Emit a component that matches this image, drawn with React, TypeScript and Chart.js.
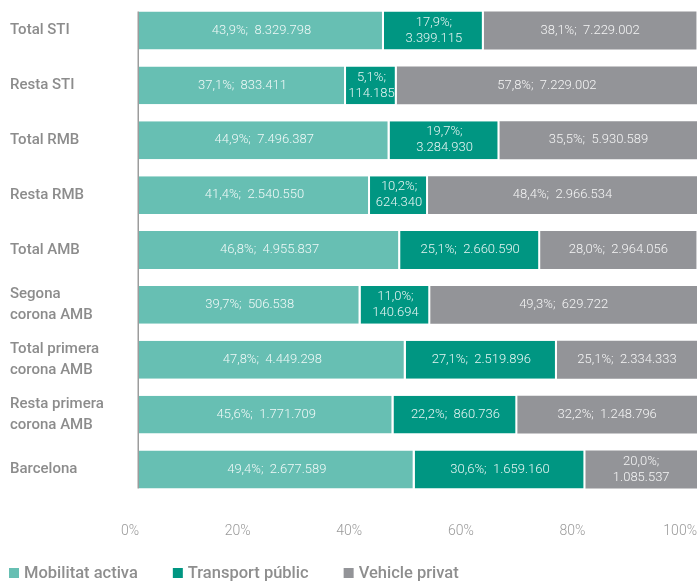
import React, { useEffect, useRef } from 'react';
import { Chart, registerables } from 'chart.js';
Chart.register(...registerables);

const categories: string[][] = [
  ['Total STI'],
  ['Resta STI'],
  ['Total RMB'],
  ['Resta RMB'],
  ['Total AMB'],
  ['Segona', 'corona AMB'],
  ['Total primera', 'corona AMB'],
  ['Resta primera', 'corona AMB'],
  ['Barcelona'],
];
const seriesNames = ['Mobilitat activa', 'Transport públic', 'Vehicle privat'];

// Bar lengths as drawn in the picture (% of the 100% scale)
const activaBar = [43.9, 37.1, 44.9, 41.4, 46.8, 39.7, 47.8, 45.6, 49.4];
const publicBar = [17.9, 9.1, 19.7, 10.4, 25.1, 12.5, 27.1, 22.2, 30.6];
const privatBar = [38.1, 53.8, 35.5, 48.2, 28.0, 47.8, 25.1, 32.2, 20.0];

// Label texts (percentage and absolute value)
const activaPct = [43.9, 37.1, 44.9, 41.4, 46.8, 39.7, 47.8, 45.6, 49.4];
const activaCount = [8329798, 833411, 7496387, 2540550, 4955837, 506538, 4449298, 1771709, 2677589];
const publicPct = [17.9, 5.1, 19.7, 10.2, 25.1, 11.0, 27.1, 22.2, 30.6];
const publicCount = [3399115, 114185, 3284930, 624340, 2660590, 140694, 2519896, 860736, 1659160];
const privatPct = [38.1, 57.8, 35.5, 48.4, 28.0, 49.3, 25.1, 32.2, 20.0];
const privatCount = [7229002, 7229002, 5930589, 2966534, 2964056, 629722, 2334333, 1248796, 1085537];
const xTickStep = 20;

const colors = ['#67bfb3', '#009682', '#939498'];
const labelPcts = [activaPct, publicPct, privatPct];
const counts = [activaCount, publicCount, privatCount];

const fmtPct = (v: number) => v.toFixed(1).replace('.', ',') + '%;';
const fmtCount = (n: number) => n.toString().replace(/\B(?=(\d{3})+(?!\d))/g, '.');

const valueLabels = {
  id: 'valueLabels',
  afterDatasetsDraw(chart: any) {
    const ctx = chart.ctx;
    ctx.save();
    ctx.font = '300 13px Roboto, "Liberation Sans", sans-serif';
    ctx.fillStyle = 'rgba(255,255,255,0.9)';
    ctx.textAlign = 'center';
    ctx.textBaseline = 'middle';
    chart.data.datasets.forEach((ds: any, di: number) => {
      const meta = chart.getDatasetMeta(di);
      meta.data.forEach((el: any, i: number) => {
        const p = fmtPct(labelPcts[di][i]);
        const c = fmtCount(counts[di][i]);
        const full = p + '  ' + c;
        const cx = (el.x + el.base) / 2;
        const w = Math.abs(el.x - el.base);
        if (ctx.measureText(full).width + 16 > w) {
          ctx.fillText(p, cx, el.y - 8);
          ctx.fillText(c, cx, el.y + 8);
        } else {
          ctx.fillText(full, cx, el.y);
        }
      });
    });
    ctx.restore();
  },
};

const axisLine = {
  id: 'axisLine',
  beforeDatasetsDraw(chart: any) {
    const meta = chart.getDatasetMeta(0);
    const first = meta.data[0];
    const last = meta.data[meta.data.length - 1];
    const top = first.y - first.height / 2;
    const bottom = last.y + last.height / 2;
    const ctx = chart.ctx;
    ctx.save();
    ctx.fillStyle = '#9c9c9c';
    ctx.fillRect(chart.chartArea.left - 1.5, top, 1.5, bottom - top);
    ctx.restore();
  },
};

const customLegend = {
  id: 'customLegend',
  afterDraw(chart: any) {
    const ctx = chart.ctx;
    ctx.save();
    ctx.font = '500 16.5px Roboto, "Liberation Sans", sans-serif';
    ctx.textBaseline = 'middle';
    ctx.textAlign = 'left';
    let x = 9;
    const y = 568;
    chart.data.datasets.forEach((ds: any) => {
      ctx.fillStyle = ds.backgroundColor;
      ctx.fillRect(x, y, 10, 10);
      ctx.fillStyle = '#8e8e8e';
      ctx.fillText(ds.label, x + 15, y + 6);
      x += 15 + ctx.measureText(ds.label).width + 35;
    });
    ctx.restore();
  },
};

export default function App() {
  const ref = useRef<HTMLCanvasElement>(null);
  useEffect(() => {
    if (!ref.current) return;
    const bars = [activaBar, publicBar, privatBar];
    const chart = new Chart(ref.current, {
      type: 'bar',
      data: {
        labels: categories,
        datasets: seriesNames.map((name, i) => ({
          label: name,
          data: bars[i],
          backgroundColor: colors[i],
          borderColor: '#ffffff',
          borderWidth: i < 2 ? { top: 0, bottom: 0, left: 0, right: 2 } : 0,
          borderSkipped: false,
          barPercentage: 0.69,
          categoryPercentage: 1,
        })),
      },
      options: {
        indexAxis: 'y',
        animation: false,
        responsive: false,
        maintainAspectRatio: false,
        layout: { padding: { left: 10, right: 2, top: 3, bottom: 46 } },
        plugins: {
          legend: { display: false },
          tooltip: { enabled: false },
        },
        scales: {
          x: {
            stacked: true,
            min: 0,
            max: 100,
            grid: { display: false, drawTicks: false },
            border: { display: false },
            ticks: {
              stepSize: xTickStep,
              callback: (v: any) => v + '%',
              align: 'end',
              padding: 26,
              color: '#9a9a9a',
              font: { family: 'Roboto, "Liberation Sans", sans-serif', size: 14, weight: '300' },
            },
            afterFit: (s: any) => { s.height = 40; s.paddingLeft = 0; s.paddingRight = 0; },
          },
          y: {
            stacked: true,
            grid: { display: false, drawTicks: false },
            border: { display: false },
            ticks: {
              crossAlign: 'far',
              padding: 0,
              color: '#8c8c8c',
              font: { family: 'Roboto, "Liberation Sans", sans-serif', size: 15, weight: '500', lineHeight: 1.4 },
            },
            afterFit: (s: any) => { s.width = 129; s.paddingTop = 0; s.paddingBottom = 0; },
          },
        },
      } as any,
      plugins: [axisLine, valueLabels, customLegend],
    });
    return () => chart.destroy();
  }, []);
  return (
    <div style={{ position: 'fixed', left: 0, top: 0, width: 699, height: 583, background: '#fff' }}>
      <canvas ref={ref} width={699} height={583} style={{ display: 'block', width: 699, height: 583 }} />
    </div>
  );
}
